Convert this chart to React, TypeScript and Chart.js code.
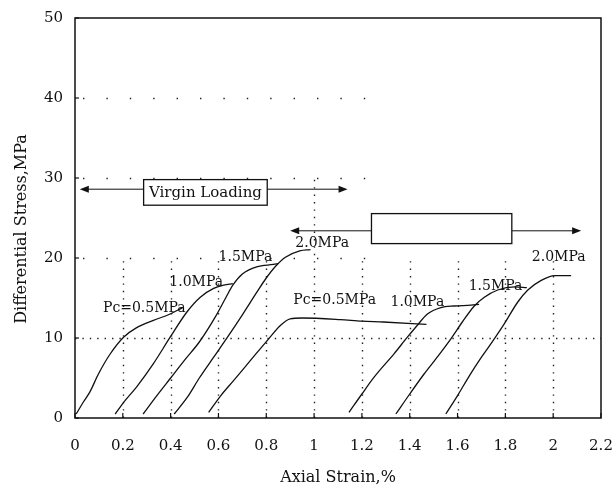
import React, { useEffect, useRef } from "react";
import { Chart, registerables } from "chart.js";

Chart.register(...registerables);

// ---- data (axial strain %, differential stress MPa) ----
const virgin05X = [0.005, 0.035, 0.063, 0.098, 0.147, 0.203, 0.258, 0.328, 0.398, 0.45];
const virgin05Y = [0.5, 2.0, 3.3, 5.5, 8.0, 10.1, 11.3, 12.2, 13.0, 13.8];
const virgin10X = [0.168, 0.21, 0.258, 0.328, 0.398, 0.468, 0.524, 0.58, 0.622, 0.66];
const virgin10Y = [0.5, 2.2, 3.9, 6.8, 10.1, 13.25, 15.1, 16.2, 16.6, 16.8];
const virgin15X = [0.285, 0.34, 0.4, 0.46, 0.52, 0.59, 0.63, 0.66, 0.7, 0.76, 0.83, 0.85];
const virgin15Y = [0.5, 2.7, 5.0, 7.3, 9.5, 12.8, 15.0, 16.6, 18.0, 18.9, 19.2, 19.3];
const virgin20X = [0.415, 0.47, 0.52, 0.58, 0.64, 0.7, 0.76, 0.8, 0.84, 0.88, 0.94, 0.985];
const virgin20Y = [0.5, 2.6, 5.0, 7.6, 10.2, 12.9, 15.7, 17.5, 19.0, 20.1, 20.9, 21.05];
const second05X = [0.559, 0.61, 0.664, 0.734, 0.81, 0.86, 0.9, 0.95, 1.11, 1.2, 1.29, 1.47];
const second05Y = [0.7, 2.8, 4.7, 7.2, 9.9, 11.6, 12.4, 12.5, 12.3, 12.1, 12.0, 11.7];
const second10X = [1.146, 1.2, 1.251, 1.335, 1.39, 1.432, 1.474, 1.53, 1.586, 1.656, 1.69];
const second10Y = [0.7, 3.0, 5.1, 8.05, 10.1, 11.6, 13.0, 13.8, 14.0, 14.1, 14.2];
const second15X = [1.342, 1.4, 1.46, 1.52, 1.572, 1.62, 1.67, 1.712, 1.768, 1.838, 1.89];
const second15Y = [0.5, 3.0, 5.5, 7.8, 9.9, 12.0, 14.0, 15.1, 16.0, 16.4, 16.3];
const second20X = [1.551, 1.6, 1.65, 1.7, 1.74, 1.796, 1.852, 1.894, 1.95, 2.006, 2.075];
const second20Y = [0.5, 2.8, 5.3, 7.6, 9.3, 11.8, 14.5, 16.0, 17.2, 17.8, 17.8];

const seriesX = [virgin05X, virgin10X, virgin15X, virgin20X, second05X, second10X, second15X, second20X];
const seriesY = [virgin05Y, virgin10Y, virgin15Y, virgin20Y, second05Y, second10Y, second15Y, second20Y];

const curveLabelText = ["Pc=0.5MPa", "1.0MPa", "1.5MPa", "2.0MPa", "Pc=0.5MPa", "1.0MPa", "1.5MPa", "2.0MPa"];
const curveLabelX = [0.29, 0.507, 0.713, 1.034, 1.086, 1.432, 1.759, 2.023];
const curveLabelY = [13.7, 17.0, 20.1, 21.8, 14.7, 14.5, 16.4, 20.1];

const xTickValues = [0, 0.2, 0.4, 0.6, 0.8, 1, 1.2, 1.4, 1.6, 1.8, 2, 2.2];
const xTickLabels = ["0", "0.2", "0.4", "0.6", "0.8", "1", "1.2", "1.4", "1.6", "1.8", "2", "2.2"];
const yTickValues = [0, 10, 20, 30, 40, 50];

const xTitle = "Axial Strain,%";
const yTitle = "Differential Stress,MPa";

// annotation arrows / boxes (data coordinates)
const arrow1 = { y: 28.6, x0: 0.02, x1: 1.14, bx0: 0.287, bx1: 0.804, by0: 26.6, by1: 29.8, text: "Virgin Loading" };
const arrow2 = { y: 23.4, x0: 0.9, x1: 2.117, bx0: 1.24, bx1: 1.827, by0: 21.8, by1: 25.55, text: "" };

const FONT = "'DejaVu Serif', serif";

function drawArrowHead(ctx: CanvasRenderingContext2D, x: number, y: number, dir: number) {
  ctx.beginPath();
  ctx.moveTo(x, y);
  ctx.lineTo(x - dir * 9, y - 3.5);
  ctx.lineTo(x - dir * 9, y + 3.5);
  ctx.closePath();
  ctx.fill();
}

const overlayPlugin = {
  id: "overlay",
  beforeDatasetsDraw(chart: any) {
    const { ctx, chartArea: a, scales } = chart;
    const xs = scales.x;
    const ys = scales.y;
    ctx.save();
    ctx.strokeStyle = "#222";
    ctx.lineWidth = 1.4;
    ctx.setLineDash([1.4, 6]);
    for (const v of xTickValues) {
      if (v <= 0 || v >= 2.2) continue;
      const px = Math.round(xs.getPixelForValue(v)) + 0.5;
      ctx.beginPath();
      ctx.moveTo(px, ys.getPixelForValue(0));
      ctx.lineTo(px, ys.getPixelForValue(v === 1 ? 30 : 20));
      ctx.stroke();
    }
    const p10 = Math.round(ys.getPixelForValue(10)) + 0.5;
    ctx.beginPath();
    ctx.moveTo(a.left, p10);
    ctx.lineTo(a.right, p10);
    ctx.stroke();
    ctx.setLineDash([1.4, 22]);
    for (const v of [20, 30, 40]) {
      const py = Math.round(ys.getPixelForValue(v)) + 0.5;
      ctx.beginPath();
      ctx.moveTo(a.left + 8, py);
      ctx.lineTo(xs.getPixelForValue(1.25), py);
      ctx.stroke();
    }
    ctx.restore();
  },
  afterDatasetsDraw(chart: any) {
    const { ctx, chartArea: a, scales } = chart;
    const xs = scales.x;
    const ys = scales.y;
    ctx.save();
    ctx.strokeStyle = "#111";
    ctx.lineWidth = 1.5;
    ctx.setLineDash([]);
    ctx.strokeRect(a.left, a.top, a.right - a.left, a.bottom - a.top);
    ctx.lineWidth = 1.2;
    for (const v of xTickValues) {
      const px = xs.getPixelForValue(v);
      ctx.beginPath();
      ctx.moveTo(px, a.bottom);
      ctx.lineTo(px, a.bottom - 5);
      ctx.stroke();
    }
    for (const v of yTickValues) {
      const py = ys.getPixelForValue(v);
      ctx.beginPath();
      ctx.moveTo(a.left, py);
      ctx.lineTo(a.left + 4, py);
      ctx.stroke();
    }
    ctx.fillStyle = "#111";
    for (const ar of [arrow1, arrow2]) {
      const py = ys.getPixelForValue(ar.y);
      const px0 = xs.getPixelForValue(ar.x0);
      const px1 = xs.getPixelForValue(ar.x1);
      ctx.lineWidth = 1;
      ctx.beginPath();
      ctx.moveTo(px0 + 4, py);
      ctx.lineTo(px1 - 4, py);
      ctx.stroke();
      drawArrowHead(ctx, px0, py, -1);
      drawArrowHead(ctx, px1, py, 1);
      const bx0 = xs.getPixelForValue(ar.bx0);
      const bx1 = xs.getPixelForValue(ar.bx1);
      const by0 = ys.getPixelForValue(ar.by1);
      const by1 = ys.getPixelForValue(ar.by0);
      ctx.fillStyle = "#fff";
      ctx.fillRect(bx0, by0, bx1 - bx0, by1 - by0);
      ctx.lineWidth = 1.3;
      ctx.strokeRect(bx0, by0, bx1 - bx0, by1 - by0);
      ctx.fillStyle = "#111";
      if (ar.text) {
        ctx.font = `15px ${FONT}`;
        ctx.textAlign = "center";
        ctx.textBaseline = "middle";
        ctx.fillText(ar.text, (bx0 + bx1) / 2, (by0 + by1) / 2 + 1);
      }
    }
    ctx.font = `14px ${FONT}`;
    ctx.textAlign = "center";
    ctx.textBaseline = "middle";
    ctx.fillStyle = "#111";
    curveLabelText.forEach((t, i) => {
      ctx.fillText(t, xs.getPixelForValue(curveLabelX[i]), ys.getPixelForValue(curveLabelY[i]));
    });
    ctx.font = `16px ${FONT}`;
    ctx.fillText(xTitle, (a.left + a.right) / 2, 478);
    ctx.save();
    ctx.translate(22, 229);
    ctx.rotate(-Math.PI / 2);
    ctx.fillText(yTitle, 0, 0);
    ctx.restore();
    ctx.restore();
  },
};

export default function App() {
  const ref = useRef<HTMLCanvasElement | null>(null);
  useEffect(() => {
    if (!ref.current) return;
    const datasets = seriesX.map((xsArr, i) => ({
      data: xsArr.map((x, j) => ({ x, y: seriesY[i][j] })),
      borderColor: "#111",
      borderWidth: 1.3,
      pointRadius: 0,
      showLine: true,
      fill: false,
      cubicInterpolationMode: "monotone" as const,
    }));
    const chart = new Chart(ref.current, {
      type: "scatter",
      data: { datasets },
      options: {
        animation: false,
        responsive: true,
        maintainAspectRatio: false,
        layout: { padding: { top: 18, right: 13, left: 0, bottom: 0 } },
        plugins: { legend: { display: false }, tooltip: { enabled: false } },
        scales: {
          x: {
            type: "linear",
            min: 0,
            max: 2.2,
            afterBuildTicks: (s: any) => {
              s.ticks = xTickValues.map((v) => ({ value: v }));
            },
            afterFit: (s: any) => {
              s.height = 72;
              s.paddingLeft = 0;
              s.paddingRight = 0;
              s.paddingTop = 0;
              s.paddingBottom = 0;
            },
            grid: { display: false, drawTicks: false },
            border: { display: false },
            ticks: {
              padding: 19,
              autoSkip: false,
              maxRotation: 0,
              color: "#111",
              font: { family: FONT, size: 15 },
              callback: (v: any) => {
                const idx = xTickValues.findIndex((t) => Math.abs(t - Number(v)) < 1e-6);
                return idx >= 0 ? xTickLabels[idx] : "";
              },
            },
          },
          y: {
            type: "linear",
            min: 0,
            max: 50,
            afterBuildTicks: (s: any) => {
              s.ticks = yTickValues.map((v) => ({ value: v }));
            },
            afterFit: (s: any) => {
              s.width = 75;
              s.paddingLeft = 0;
              s.paddingRight = 0;
              s.paddingTop = 0;
              s.paddingBottom = 0;
            },
            grid: { display: false, drawTicks: false },
            border: { display: false },
            ticks: {
              padding: 12,
              color: "#111",
              font: { family: FONT, size: 15 },
            },
          },
        },
      },
      plugins: [overlayPlugin],
    });
    return () => chart.destroy();
  }, []);
  return (
    <div style={{ position: "absolute", left: 0, top: 0, width: 614, height: 490, background: "#fff" }}>
      <canvas ref={ref} />
    </div>
  );
}
